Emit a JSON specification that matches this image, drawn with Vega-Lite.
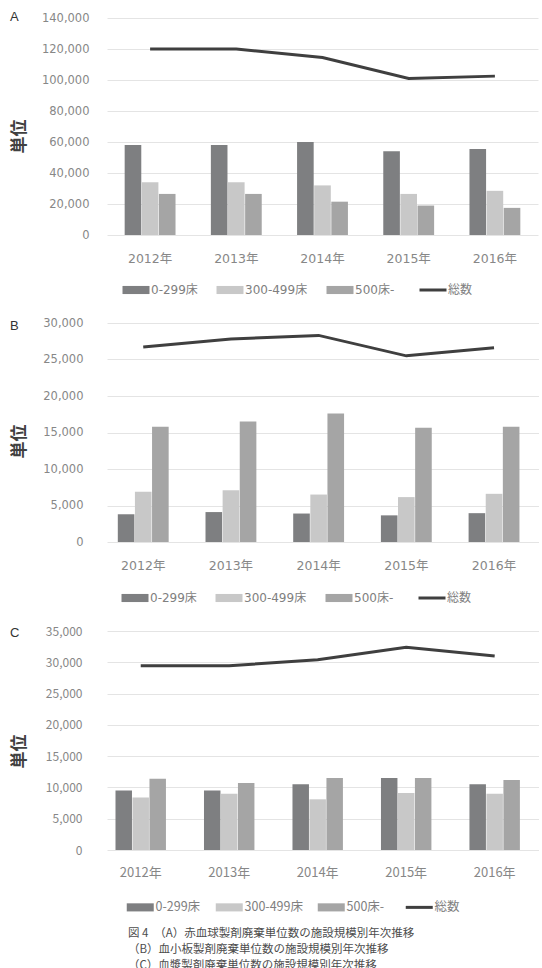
{
  "$schema": "https://vega.github.io/schema/vega-lite/v6.json",
  "background": "white",
  "padding": {"left": 10, "top": 11, "right": 0, "bottom": 0},
  "datasets": {
    "A": [
      {"year": "2012年", "kind": "0-299床", "value": 58000},
      {"year": "2012年", "kind": "300-499床", "value": 34000},
      {"year": "2012年", "kind": "500床-", "value": 26500},
      {"year": "2012年", "kind": "総数", "value": 120000},
      {"year": "2013年", "kind": "0-299床", "value": 58000},
      {"year": "2013年", "kind": "300-499床", "value": 34000},
      {"year": "2013年", "kind": "500床-", "value": 26500},
      {"year": "2013年", "kind": "総数", "value": 120000},
      {"year": "2014年", "kind": "0-299床", "value": 60000},
      {"year": "2014年", "kind": "300-499床", "value": 32000},
      {"year": "2014年", "kind": "500床-", "value": 21500},
      {"year": "2014年", "kind": "総数", "value": 114500},
      {"year": "2015年", "kind": "0-299床", "value": 54000},
      {"year": "2015年", "kind": "300-499床", "value": 26500},
      {"year": "2015年", "kind": "500床-", "value": 19000},
      {"year": "2015年", "kind": "総数", "value": 101000},
      {"year": "2016年", "kind": "0-299床", "value": 55500},
      {"year": "2016年", "kind": "300-499床", "value": 28500},
      {"year": "2016年", "kind": "500床-", "value": 17500},
      {"year": "2016年", "kind": "総数", "value": 102500}
    ],
    "B": [
      {"year": "2012年", "kind": "0-299床", "value": 3800},
      {"year": "2012年", "kind": "300-499床", "value": 6900},
      {"year": "2012年", "kind": "500床-", "value": 15800},
      {"year": "2012年", "kind": "総数", "value": 26700},
      {"year": "2013年", "kind": "0-299床", "value": 4100},
      {"year": "2013年", "kind": "300-499床", "value": 7100},
      {"year": "2013年", "kind": "500床-", "value": 16500},
      {"year": "2013年", "kind": "総数", "value": 27800},
      {"year": "2014年", "kind": "0-299床", "value": 3900},
      {"year": "2014年", "kind": "300-499床", "value": 6500},
      {"year": "2014年", "kind": "500床-", "value": 17600},
      {"year": "2014年", "kind": "総数", "value": 28300},
      {"year": "2015年", "kind": "0-299床", "value": 3650},
      {"year": "2015年", "kind": "300-499床", "value": 6150},
      {"year": "2015年", "kind": "500床-", "value": 15650},
      {"year": "2015年", "kind": "総数", "value": 25500},
      {"year": "2016年", "kind": "0-299床", "value": 3950},
      {"year": "2016年", "kind": "300-499床", "value": 6600},
      {"year": "2016年", "kind": "500床-", "value": 15800},
      {"year": "2016年", "kind": "総数", "value": 26600}
    ],
    "C": [
      {"year": "2012年", "kind": "0-299床", "value": 9500},
      {"year": "2012年", "kind": "300-499床", "value": 8400},
      {"year": "2012年", "kind": "500床-", "value": 11400},
      {"year": "2012年", "kind": "総数", "value": 29450},
      {"year": "2013年", "kind": "0-299床", "value": 9500},
      {"year": "2013年", "kind": "300-499床", "value": 9000},
      {"year": "2013年", "kind": "500床-", "value": 10700},
      {"year": "2013年", "kind": "総数", "value": 29450},
      {"year": "2014年", "kind": "0-299床", "value": 10500},
      {"year": "2014年", "kind": "300-499床", "value": 8100},
      {"year": "2014年", "kind": "500床-", "value": 11500},
      {"year": "2014年", "kind": "総数", "value": 30400},
      {"year": "2015年", "kind": "0-299床", "value": 11500},
      {"year": "2015年", "kind": "300-499床", "value": 9100},
      {"year": "2015年", "kind": "500床-", "value": 11500},
      {"year": "2015年", "kind": "総数", "value": 32400},
      {"year": "2016年", "kind": "0-299床", "value": 10500},
      {"year": "2016年", "kind": "300-499床", "value": 9000},
      {"year": "2016年", "kind": "500床-", "value": 11200},
      {"year": "2016年", "kind": "総数", "value": 31000}
    ]
  },
  "title": {
    "text": [
      "図 4\u2002（A）赤血球製剤廃棄単位数の施設規模別年次推移",
      "　　\u2002（B）血小板製剤廃棄単位数の施設規模別年次推移",
      "　　\u2002（C）血漿製剤廃棄単位数の施設規模別年次推移"
    ],
    "orient": "bottom",
    "anchor": "start",
    "frame": "group",
    "dx": 21,
    "offset": 14,
    "font": "Noto Sans CJK JP",
    "fontSize": 11.5,
    "fontWeight": "normal",
    "lineHeight": 16,
    "color": "#4d4d4d"
  },
  "columns": 1,
  "align": "none",
  "spacing": 21,
  "resolve": {
    "scale": {"x": "independent", "y": "independent", "xOffset": "independent", "color": "independent"},
    "axis": {"x": "independent", "y": "independent"},
    "legend": {"color": "independent"}
  },
  "concat": [
    {
      "data": {"name": "A"},
      "width": 431,
      "height": 217,
      "title": {"text": "A", "anchor": "start", "frame": "bounds", "offset": 0, "dy": 12, "font": "Liberation Sans", "fontSize": 13, "fontWeight": "normal", "color": "#333333"},
      "layer": [
        {
          "transform": [{"filter": "datum.kind !== '総数'"}],
          "mark": {"type": "bar"},
          "encoding": {
            "x": {"field": "year", "type": "nominal", "title": null,
                  "scale": {"paddingInner": 0.41, "paddingOuter": 0.205},
                  "axis": {"labelAngle": 0, "labelFont": "'DejaVu Sans', 'Noto Sans CJK JP'", "labelFontSize": 12.5, "labelPadding": 17}},
            "xOffset": {"field": "kind", "type": "nominal", "scale": {"paddingInner": 0.03}},
            "y": {"field": "value", "type": "quantitative", "title": "単位",
                  "scale": {"domain": [0, 140000], "nice": false},
                  "axis": {"values": [0, 20000, 40000, 60000, 80000, 100000, 120000, 140000], "tickCount": 20, "format": ",d",
                           "labelFont": "'DejaVu Sans', 'Noto Sans CJK JP'", "labelFontSize": 11.5, "labelPadding": 18,
                           "titleX": -88, "titleY": 118}},
            "color": {"field": "kind", "type": "nominal",
                      "scale": {"domain": ["0-299床", "300-499床", "500床-", "総数"], "range": ["#7e7f81", "#c8c8c8", "#a5a5a5", "#3f3f3f"]},
                      "legend": {"orient": "none", "legendX": 23, "legendY": 266, "direction": "horizontal", "title": null,
                                 "labelFont": "'DejaVu Sans', 'Noto Sans CJK JP'", "labelFontSize": 12, "labelColor": "#808080",
                                 "labelOffset": 9, "columnPadding": 18, "symbolSize": 729, "symbolType": "M-1,-0.3H1V0.3H-1Z",
                                 "encode": {"symbols": {"update": {
                                   "shape": {"signal": "datum.value === '総数' ? 'stroke' : 'M-1,-0.3H1V0.3H-1Z'"},
                                   "fill": {"signal": "datum.value === '0-299床' ? '#7e7f81' : datum.value === '300-499床' ? '#c8c8c8' : datum.value === '500床-' ? '#a5a5a5' : 'transparent'"},
                                   "stroke": {"signal": "datum.value === '総数' ? '#3f3f3f' : 'transparent'"},
                                   "strokeWidth": {"signal": "datum.value === '総数' ? 3 : 0"},
                                   "opacity": {"value": 1}}}}}}
          }
        },
        {
          "transform": [{"filter": "datum.kind === '総数'"}],
          "mark": {"type": "line", "strokeWidth": 3},
          "encoding": {
            "x": {"field": "year", "type": "nominal"},
            "y": {"field": "value", "type": "quantitative"},
            "color": {"field": "kind", "type": "nominal"}
          }
        }
      ]
    },
    {
      "data": {"name": "B"},
      "width": 432,
      "height": 219,
      "title": {"text": "B", "anchor": "start", "frame": "bounds", "offset": 0, "dy": 16, "font": "Liberation Sans", "fontSize": 13, "fontWeight": "normal", "color": "#333333"},
      "layer": [
        {
          "transform": [{"filter": "datum.kind !== '総数'"}],
          "mark": {"type": "bar"},
          "encoding": {
            "x": {"field": "year", "type": "nominal", "title": null,
                  "scale": {"paddingInner": 0.42, "paddingOuter": 0.173, "align": 0.356},
                  "axis": {"labelAngle": 0, "labelFont": "'DejaVu Sans', 'Noto Sans CJK JP'", "labelFontSize": 12.5, "labelPadding": 17}},
            "xOffset": {"field": "kind", "type": "nominal", "scale": {"paddingInner": 0.03}},
            "y": {"field": "value", "type": "quantitative", "title": "単位",
                  "scale": {"domain": [0, 30000], "nice": false},
                  "axis": {"values": [0, 5000, 10000, 15000, 20000, 25000, 30000], "tickCount": 20, "format": ",d",
                           "labelFont": "'DejaVu Sans', 'Noto Sans CJK JP'", "labelFontSize": 11.5, "labelPadding": 24,
                           "titleX": -88, "titleY": 118}},
            "color": {"field": "kind", "type": "nominal",
                      "scale": {"domain": ["0-299床", "300-499床", "500床-", "総数"], "range": ["#7e7f81", "#c8c8c8", "#a5a5a5", "#3f3f3f"]},
                      "legend": {"orient": "none", "legendX": 22, "legendY": 269, "direction": "horizontal", "title": null,
                                 "labelFont": "'DejaVu Sans', 'Noto Sans CJK JP'", "labelFontSize": 12, "labelColor": "#808080",
                                 "labelOffset": 9, "columnPadding": 18, "symbolSize": 729, "symbolType": "M-1,-0.3H1V0.3H-1Z",
                                 "encode": {"symbols": {"update": {
                                   "shape": {"signal": "datum.value === '総数' ? 'stroke' : 'M-1,-0.3H1V0.3H-1Z'"},
                                   "fill": {"signal": "datum.value === '0-299床' ? '#7e7f81' : datum.value === '300-499床' ? '#c8c8c8' : datum.value === '500床-' ? '#a5a5a5' : 'transparent'"},
                                   "stroke": {"signal": "datum.value === '総数' ? '#3f3f3f' : 'transparent'"},
                                   "strokeWidth": {"signal": "datum.value === '総数' ? 3 : 0"},
                                   "opacity": {"value": 1}}}}}}
          }
        },
        {
          "transform": [{"filter": "datum.kind === '総数'"}],
          "mark": {"type": "line", "strokeWidth": 3},
          "encoding": {
            "x": {"field": "year", "type": "nominal"},
            "y": {"field": "value", "type": "quantitative"},
            "color": {"field": "kind", "type": "nominal"}
          }
        }
      ]
    },
    {
      "data": {"name": "C"},
      "width": 432,
      "height": 219,
      "title": {"text": "C", "anchor": "start", "frame": "bounds", "offset": 0, "dy": 15, "font": "Liberation Sans", "fontSize": 13, "fontWeight": "normal", "color": "#333333"},
      "layer": [
        {
          "transform": [{"filter": "datum.kind !== '総数'"}],
          "mark": {"type": "bar"},
          "encoding": {
            "x": {"field": "year", "type": "nominal", "title": null,
                  "scale": {"paddingInner": 0.43, "paddingOuter": 0.156, "align": 0.308},
                  "axis": {"labelAngle": 0, "labelFont": "Noto Sans CJK JP", "labelFontSize": 13, "labelPadding": 16}},
            "xOffset": {"field": "kind", "type": "nominal", "scale": {"paddingInner": 0.03}},
            "y": {"field": "value", "type": "quantitative", "title": "単位",
                  "scale": {"domain": [0, 35000], "nice": false},
                  "axis": {"values": [0, 5000, 10000, 15000, 20000, 25000, 30000, 35000], "tickCount": 20, "format": ",d",
                           "labelFont": "Noto Sans CJK JP", "labelFontSize": 12, "labelPadding": 25,
                           "titleX": -88, "titleY": 120}},
            "color": {"field": "kind", "type": "nominal",
                      "scale": {"domain": ["0-299床", "300-499床", "500床-", "総数"], "range": ["#7e7f81", "#c8c8c8", "#a5a5a5", "#3f3f3f"]},
                      "legend": {"orient": "none", "legendX": 27, "legendY": 270, "direction": "horizontal", "title": null,
                                 "labelFont": "Noto Sans CJK JP", "labelFontSize": 12.5, "labelColor": "#808080",
                                 "labelOffset": 9, "columnPadding": 14, "symbolSize": 729, "symbolType": "M-1,-0.3H1V0.3H-1Z",
                                 "encode": {"symbols": {"update": {
                                   "shape": {"signal": "datum.value === '総数' ? 'stroke' : 'M-1,-0.3H1V0.3H-1Z'"},
                                   "fill": {"signal": "datum.value === '0-299床' ? '#7e7f81' : datum.value === '300-499床' ? '#c8c8c8' : datum.value === '500床-' ? '#a5a5a5' : 'transparent'"},
                                   "stroke": {"signal": "datum.value === '総数' ? '#3f3f3f' : 'transparent'"},
                                   "strokeWidth": {"signal": "datum.value === '総数' ? 3 : 0"},
                                   "opacity": {"value": 1}}}}}}
          }
        },
        {
          "transform": [{"filter": "datum.kind === '総数'"}],
          "mark": {"type": "line", "strokeWidth": 3},
          "encoding": {
            "x": {"field": "year", "type": "nominal"},
            "y": {"field": "value", "type": "quantitative"},
            "color": {"field": "kind", "type": "nominal"}
          }
        }
      ]
    }
  ],
  "config": {
    "view": {"stroke": null},
    "axis": {"domain": false, "ticks": false, "labelColor": "#878787", "titleFont": "Noto Sans CJK JP", "titleFontSize": 17, "titleFontWeight": "bold", "titleColor": "#404040"},
    "axisX": {"grid": false},
    "axisY": {"grid": true, "gridColor": "#e4e4e4", "labelOverlap": false, "titleBaseline": "middle", "titleAlign": "center"}
  }
}
